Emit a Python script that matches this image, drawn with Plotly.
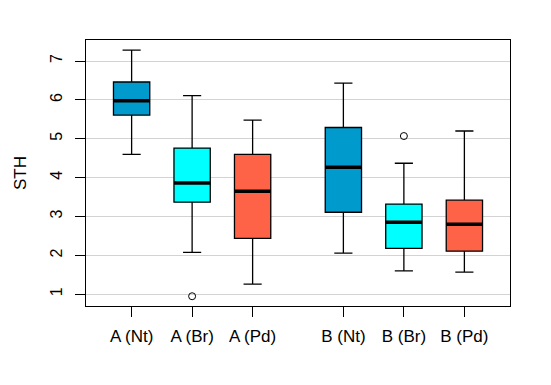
import plotly.graph_objects as go

categories = ["A (Nt)", "A (Br)", "A (Pd)", "B (Nt)", "B (Br)", "B (Pd)"]
positions = [1, 2, 3, 4.5, 5.5, 6.5]
lower_whisker = [4.60, 2.08, 1.26, 2.06, 1.60, 1.57]
q1 = [5.61, 3.37, 2.44, 3.11, 2.18, 2.11]
median = [5.98, 3.86, 3.65, 4.27, 2.85, 2.80]
q3 = [6.46, 4.76, 4.60, 5.29, 3.32, 3.42]
upper_whisker = [7.28, 6.11, 5.48, 6.43, 4.37, 5.20]
outliers = [[], [0.95], [], [], [5.07], []]
colors = ["#009ACD", "#00FFFF", "#FF6347", "#009ACD", "#00FFFF", "#FF6347"]

BOX_W = 0.6
fig = go.Figure()
for i, name in enumerate(categories):
    fig.add_trace(go.Box(
        x=[positions[i]], q1=[q1[i]], median=[median[i]], q3=[q3[i]],
        lowerfence=[lower_whisker[i]], upperfence=[upper_whisker[i]],
        width=BOX_W, whiskerwidth=0.5, fillcolor=colors[i],
        line=dict(color="black", width=1.3), boxpoints=False,
        name=name, showlegend=False, hoverinfo="skip"))
    fig.add_trace(go.Scatter(
        x=[positions[i] - BOX_W / 2, positions[i] + BOX_W / 2],
        y=[median[i], median[i]], mode="lines",
        line=dict(color="black", width=3.5), showlegend=False, hoverinfo="skip"))
    if outliers[i]:
        fig.add_trace(go.Scatter(
            x=[positions[i]] * len(outliers[i]), y=outliers[i], mode="markers",
            marker=dict(symbol="circle-open", size=7, color="black", line=dict(width=1)),
            showlegend=False, hoverinfo="skip"))

fig.update_layout(
    width=551, height=385,
    margin=dict(l=74, r=49, t=32, b=87),
    paper_bgcolor="white", plot_bgcolor="white",
    font=dict(family="Liberation Sans, Arial, sans-serif", size=15, color="black"),
)
fig.update_xaxes(
    range=[0.246, 7.254], tickmode="array", tickvals=positions, ticktext=categories,
    showgrid=False, zeroline=False, showline=True, linecolor="black", linewidth=1,
    mirror=True, ticks="outside", ticklen=10, tickcolor="black", tickwidth=1,
    ticklabelstandoff=5, tickfont=dict(size=17))
fig.update_yaxes(
    range=[0.699, 7.54], tickmode="array", tickvals=[1, 2, 3, 4, 5, 6, 7],
    showgrid=True, gridcolor="#D3D3D3", gridwidth=1, zeroline=False,
    showline=True, linecolor="black", linewidth=1, mirror=True,
    ticks="outside", ticklen=10, tickcolor="black", tickwidth=1, tickangle=-90,
    ticklabelstandoff=7, tickfont=dict(size=16),
    title=dict(text="STH", font=dict(size=17), standoff=16))

fig.write_html("out.html")
